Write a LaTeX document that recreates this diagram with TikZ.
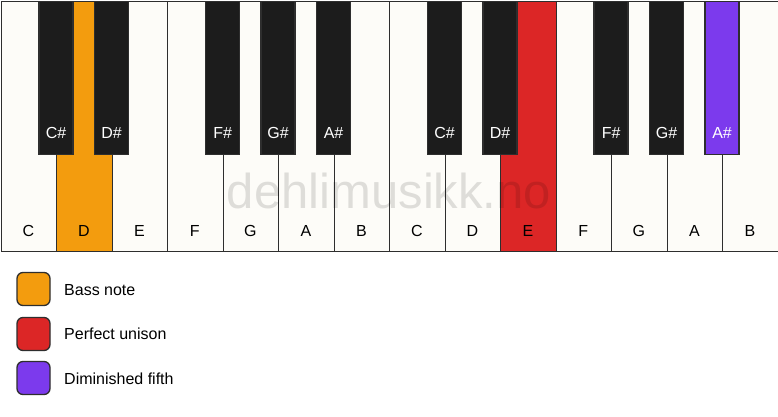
\documentclass[tikz,border=0pt]{standalone}
\usepackage{fontspec}
\setmainfont{Liberation Sans}
\begin{document}
\begin{tikzpicture}[x=1pt,y=-1pt,
  whitekey/.style={draw=keyline,line width=1.3pt,fill=keywhite},
  blackkey/.style={draw=keyline,line width=1.3pt,fill=keyblack},
  wlabel/.style={font=\fontsize{16}{16}\selectfont,text=black,anchor=base},
  blabel/.style={font=\fontsize{16}{16}\selectfont,text=white,anchor=base},
  legbox/.style={draw=keyline,line width=1.3pt,rounded corners=6pt,minimum width=33pt,minimum height=33pt,inner sep=0pt},
  legtext/.style={font=\fontsize{16}{16}\selectfont,anchor=west,inner sep=0pt}]
\definecolor{keywhite}{HTML}{FDFCF8}
\definecolor{keyblack}{HTML}{1C1C1C}
\definecolor{keyline}{HTML}{2E2E2E}
\definecolor{bassc}{HTML}{F39C0E}
\definecolor{unisonc}{HTML}{DC2626}
\definecolor{fifthc}{HTML}{7C3AED}
\useasboundingbox[fill=white] (0,0) rectangle (778,417);
\def\kw{55.5}
% white keys
\foreach \n/\lab/\col [count=\i from 0] in {wC/C/keywhite,wD/D/bassc,wE/E/keywhite,wF/F/keywhite,wG/G/keywhite,wA/A/keywhite,wB/B/keywhite,wCC/C/keywhite,wDD/D/keywhite,wEE/E/unisonc,wFF/F/keywhite,wGG/G/keywhite,wAA/A/keywhite,wBB/B/keywhite}{
  \node[whitekey,fill=\col,minimum width=\kw pt,minimum height=250pt,inner sep=0pt,anchor=north west] (\n) at ({0.6+\i*\kw},0.6) {};
  \node[wlabel] (\n l) at ({0.6+(\i+0.5)*\kw},236) {\lab};
}
% black keys
\foreach \n/\lab/\pos/\col in {bC/C\#/1/keyblack,bD/D\#/2/keyblack,bF/F\#/4/keyblack,bG/G\#/5/keyblack,bA/A\#/6/keyblack,bCC/C\#/8/keyblack,bDD/D\#/9/keyblack,bFF/F\#/11/keyblack,bGG/G\#/12/keyblack,bAA/A\#/13/fifthc}{
  \node[blackkey,fill=\col,minimum width=34pt,minimum height=153pt,inner sep=0pt,anchor=north] (\n) at ({0.6+\pos*\kw},0.6) {};
  \node[blabel] (\n l) at ({0.6+\pos*\kw},139) {\lab};
}
% watermark
\node[font=\fontsize{49}{49}\selectfont,text=black,opacity=0.12,anchor=base] (wm) at (389,208) {dehlimusikk.no};
% legend
\node[legbox,fill=bassc] (l1) at (33.5,289) {};
\node[legbox,fill=unisonc] (l2) at (33.5,334) {};
\node[legbox,fill=fifthc] (l3) at (33.5,378) {};
\node[legtext] (t1) at (64,290) {Bass note};
\node[legtext] (t2) at (64,334) {Perfect unison};
\node[legtext] (t3) at (64,379) {Diminished fifth};
\end{tikzpicture}
\end{document}
